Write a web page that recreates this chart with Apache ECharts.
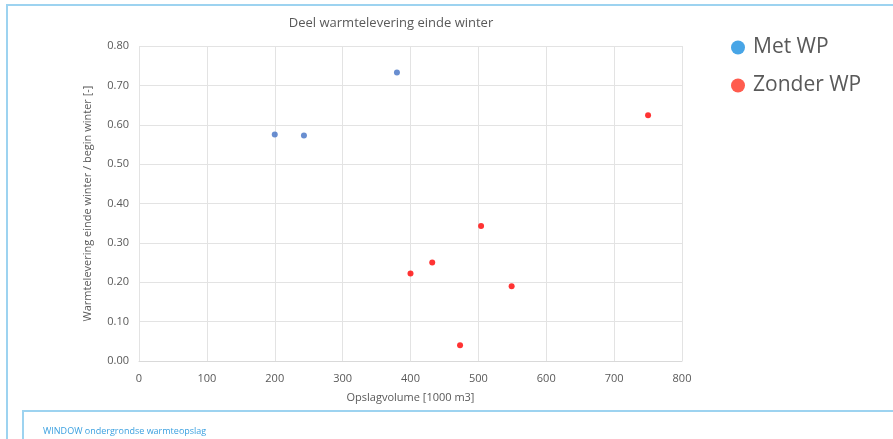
<!DOCTYPE html>
<html><head><meta charset="utf-8">
<script src="https://cdn.jsdelivr.net/npm/echarts@6/dist/echarts.min.js"></script>
<style>html,body{margin:0;padding:0;background:#fff}#c{width:893px;height:439px}</style>
</head><body><div id="c"></div>
<script>
const seriesNames = ['Met WP', 'Zonder WP'];
const metWP_x = [200, 243, 380];
const metWP_y = [0.575, 0.573, 0.733];
const zonderWP_x = [400, 432, 504, 473, 549, 750];
const zonderWP_y = [0.222, 0.250, 0.343, 0.040, 0.190, 0.624];
const xTicks = [0, 100, 200, 300, 400, 500, 600, 700, 800];
const yTicks = [0, 0.1, 0.2, 0.3, 0.4, 0.5, 0.6, 0.7, 0.8];

const zip = (a, b) => a.map((v, i) => [v, b[i]]);
const font = "'Open Sans', 'Noto Sans', sans-serif";
const chart = echarts.init(document.getElementById('c'));
chart.setOption({
  animation: false,
  textStyle: { fontFamily: font },
  title: {
    text: 'Deel warmtelevering einde winter', left: 386, top: 12, textAlign: 'center',
    textStyle: { fontSize: 13, fontWeight: 'normal', color: '#595959', fontFamily: font }
  },
  legend: {
    orient: 'vertical', left: 726, top: 32, itemGap: 17, itemWidth: 14, itemHeight: 14,
    icon: 'circle',
    textStyle: { fontSize: 21, color: '#595959', fontFamily: font, padding: [0, 0, 0, 3] },
    data: [
      { name: seriesNames[0], itemStyle: { color: '#1a8fe0' } },
      { name: seriesNames[1], itemStyle: { color: '#ff3322' } }
    ]
  },
  grid: { left: 139, right: 211, top: 46, bottom: 78 },
  xAxis: {
    type: 'value', min: xTicks[0], max: xTicks[xTicks.length - 1], interval: 100,
    name: 'Opslagvolume [1000 m3]', nameLocation: 'middle', nameGap: 31,
    nameTextStyle: { fontSize: 11, color: '#595959' },
    axisLine: { show: true, lineStyle: { color: '#d9d9d9' } },
    axisTick: { show: false },
    axisLabel: { fontSize: 11, color: '#595959', margin: 12 },
    splitLine: { show: true, lineStyle: { color: '#e3e3e3' } }
  },
  yAxis: {
    type: 'value', min: yTicks[0], max: yTicks[yTicks.length - 1], interval: 0.1,
    name: 'Warmtelevering einde winter / begin winter [-]', nameLocation: 'middle', nameGap: 46,
    nameRotate: 90,
    nameTextStyle: { fontSize: 11, color: '#595959' },
    axisLine: { show: false },
    axisTick: { show: false },
    axisLabel: { fontSize: 11, color: '#595959', margin: 10, formatter: v => v.toFixed(2) },
    splitLine: { show: true, lineStyle: { color: '#e3e3e3' } }
  },
  series: [
    { name: seriesNames[0], type: 'scatter', symbolSize: 6, itemStyle: { color: '#4472c4' }, data: zip(metWP_x, metWP_y) },
    { name: seriesNames[1], type: 'scatter', symbolSize: 6, itemStyle: { color: '#ff0000' }, data: zip(zonderWP_x, zonderWP_y) }
  ],
  graphic: [
    { type: 'polyline', shape: { points: [[7, 439], [7, 5], [893, 5]] }, style: { stroke: '#9dd3f0', lineWidth: 2, fill: null } },
    { type: 'polyline', shape: { points: [[23, 439], [23, 411], [893, 411]] }, style: { stroke: '#9dd3f0', lineWidth: 2, fill: null } },
    { type: 'text', left: 43, top: 427, style: { text: 'WINDOW ondergrondse warmteopslag', fill: '#3aa0e0', fontSize: 9, fontFamily: font } }
  ]
});
</script></body></html>
